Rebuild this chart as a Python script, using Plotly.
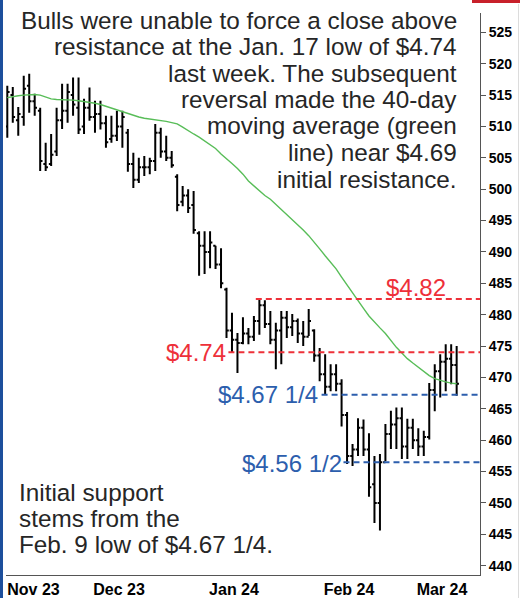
import plotly.graph_objects as go

# ---------------- data ----------------
month_labels = ["Nov 23", "Dec 23", "Jan 24", "Feb 24", "Mar 24"]
month_pos = [4.78, 20.38, 41.37, 62.35, 79.32]

highs = [516.5, 516.3, 513.1, 518.1, 518.4, 515.2, 513.0, 507.4, 508.8, 513.0,
         516.8, 516.8, 517.8, 517.8, 514.4, 516.2, 514.1, 514.1, 511.7, 511.7,
         512.5, 512.5, 509.6, 505.8, 505.0, 505.3, 505.0, 510.4, 509.8, 508.5,
         506.1, 502.4, 500.5, 500.0, 499.7, 493.3, 493.3, 493.3, 491.0, 490.6,
         484.3, 480.3, 477.1, 479.6, 477.9, 479.8, 482.5, 482.3, 480.6, 478.7,
         480.6, 480.6, 480.1, 479.4, 479.0, 480.9, 477.7, 474.7, 473.7, 472.1,
         472.1, 469.7, 464.5, 459.4, 463.5, 463.3, 461.1, 457.5, 457.8, 462.6,
         464.7, 465.2, 465.2, 463.4, 463.4, 461.9, 461.5, 469.1, 472.1, 473.7,
         475.3, 475.3, 475.0]
lows = [508.2, 510.6, 508.5, 510.1, 512.2, 511.7, 502.9, 502.9, 503.7, 505.3,
        509.6, 510.6, 511.7, 508.8, 508.8, 510.9, 509.0, 509.5, 506.6, 507.4,
        507.7, 506.6, 502.8, 500.2, 501.0, 502.1, 502.4, 502.9, 505.0, 504.5,
        503.4, 496.5, 497.3, 496.2, 492.9, 486.2, 486.5, 487.4, 487.3, 484.2,
        476.3, 474.0, 470.7, 475.3, 475.3, 475.8, 476.8, 477.9, 475.3, 471.3,
        472.1, 476.3, 476.6, 475.5, 475.0, 476.6, 472.5, 469.4, 467.25, 467.8,
        467.8, 462.2, 456.2, 455.9, 457.5, 457.5, 451.0, 446.8, 445.6, 456.7,
        458.6, 458.6, 457.0, 457.0, 458.6, 457.5, 457.5, 460.1, 464.6, 466.8,
        467.8, 468.9, 467.1]
opens = [510.0, 515.0, 511.0, 511.5, 516.5, 514.0, 512.5, 504.0, 504.0, 506.0,
         511.0, 512.5, 515.0, 513.0, 510.0, 513.0, 511.5, 512.0, 510.5, 508.0,
         508.5, 510.0, 509.0, 504.0, 501.5, 503.5, 503.5, 504.5, 509.0, 506.0,
         505.0, 502.0, 498.0, 499.0, 497.5, 493.0, 491.0, 490.0, 491.0, 488.0,
         484.0, 477.5, 476.0, 475.5, 477.0, 476.5, 479.0, 481.5, 478.5, 476.0,
         477.5, 479.5, 478.0, 479.0, 477.0, 476.5, 477.5, 473.5, 470.5, 468.5,
         470.5, 469.0, 464.0, 457.5, 458.5, 462.0, 458.5, 453.0, 450.0, 456.5,
         461.0, 462.5, 463.5, 459.0, 462.0, 460.0, 459.0, 460.5, 468.0, 471.0,
         472.5, 473.0, 472.0]
closes = [515.5, 511.5, 512.0, 516.0, 514.0, 513.0, 504.5, 503.5, 505.5, 511.0,
          512.5, 515.5, 513.5, 509.5, 513.0, 511.5, 512.0, 510.5, 507.5, 508.5,
          510.0, 511.5, 504.0, 501.5, 503.5, 503.5, 504.5, 509.0, 506.0, 505.0,
          503.8, 497.5, 499.0, 497.0, 493.5, 491.0, 490.0, 491.5, 488.0, 485.0,
          477.5, 476.0, 475.5, 477.0, 476.5, 479.0, 481.5, 478.5, 476.0, 477.5,
          479.5, 478.0, 479.0, 477.0, 476.5, 479.0, 473.5, 470.5, 468.5, 470.5,
          469.0, 464.0, 457.5, 458.5, 462.0, 458.5, 452.5, 450.0, 456.5, 461.0,
          462.5, 463.5, 459.0, 462.0, 460.0, 459.0, 460.5, 468.0, 471.0, 472.5,
          473.0, 472.0, 469.0]
ma40 = [514.6, 514.8, 514.9, 515.0, 515.1, 515.1, 515.0, 514.7, 514.4, 514.3,
        514.3, 514.2, 514.2, 514.1, 514.0, 513.8, 513.7, 513.5, 513.2, 512.9,
        512.6, 512.4, 512.1, 511.8, 511.5, 511.3, 511.2, 511.1, 511.0, 510.8,
        510.6, 510.4, 509.9, 509.3, 508.8, 508.3, 507.7, 507.2, 506.5, 505.6,
        504.9, 504.1, 503.3, 502.4, 501.3, 500.5, 499.8, 499.0, 498.4, 497.6,
        496.8, 495.9, 495.1, 494.3, 493.5, 492.6, 491.6, 490.5, 489.4, 488.4,
        487.3, 486.0, 484.7, 483.4, 482.2, 481.0, 479.8, 478.8, 477.9, 477.0,
        475.9, 474.8, 473.9, 473.0, 472.3, 471.6, 470.9, 470.3, 469.8, 469.5,
        469.3, 469.1, 469.0]
bar_index = list(range(len(highs)))

level_values = [482.5, 474.0, 467.25, 456.5]
level_labels = ["$4.82", "$4.74", "$4.67 1/4", "$4.56 1/2"]
level_from_bar = [46, 41, 58, 62]

top_text = ["Bulls were unable to force a close above",
            "resistance at the Jan. 17 low of $4.74",
            "last week. The subsequent",
            "reversal made the 40-day",
            "moving average (green",
            "line) near $4.69",
            "initial resistance."]
bottom_text = ["Initial support", "stems from the", "Feb. 9 low of $4.67 1/4."]

# ---------------- styling / layout helpers ----------------
W, H = 520, 598
PL, PR, PT, PB = 6, 480, 13, 575
XR = [-0.237, 86.26]
YR = [438.52, 528.08]
FONT = "Arial, Liberation Sans, sans-serif"
RED = "#ee3039"
BLUE = "#2c5ead"
GREEN = "#58bd58"
TEXT = "#262626"


def px_x(px):
    return (px - PL) / (PR - PL)


def px_y(py):
    return (PB - py) / (PB - PT)


fig = go.Figure()

fig.add_trace(go.Ohlc(
    x=bar_index, open=opens, high=highs, low=lows, close=closes,
    increasing=dict(line=dict(color="black", width=2)),
    decreasing=dict(line=dict(color="black", width=2)),
    tickwidth=0.42, hoverinfo="skip", showlegend=False))

fig.add_trace(go.Scatter(
    x=bar_index, y=ma40, mode="lines",
    line=dict(color=GREEN, width=1.4), hoverinfo="skip", showlegend=False))

level_colors = [RED, RED, BLUE, BLUE]
for val, start, col in zip(level_values, level_from_bar, level_colors):
    fig.add_trace(go.Scatter(
        x=[start - 0.65, XR[1]], y=[val, val], mode="lines",
        line=dict(color=col, width=2, dash="6px,4px"),
        hoverinfo="skip", showlegend=False))

annotations = []
for i, line in enumerate(top_text):
    annotations.append(dict(
        xref="paper", yref="paper", x=px_x(459), y=px_y(20 + 26.5 * i),
        xanchor="right", yanchor="middle", showarrow=False, text=line,
        font=dict(family=FONT, size=24.3, color=TEXT)))
for i, line in enumerate(bottom_text):
    annotations.append(dict(
        xref="paper", yref="paper", x=px_x(17), y=px_y(492 + 26 * i),
        xanchor="left", yanchor="middle", showarrow=False, text=line,
        font=dict(family=FONT, size=24.3, color=TEXT)))

label_pos = [(448, 287.7), (228, 352.5), (320, 395.0), (344, 463.4)]
for lab, (lx, ly), col in zip(level_labels, label_pos, level_colors):
    annotations.append(dict(
        xref="paper", yref="paper", x=px_x(lx), y=px_y(ly),
        xanchor="right", yanchor="middle", showarrow=False, text=lab,
        font=dict(family=FONT, size=24, color=col)))

shapes = [
    # blue stripe at left edge
    dict(type="rect", xref="paper", yref="paper",
         x0=px_x(0), x1=px_x(3), y0=px_y(H), y1=px_y(0),
         fillcolor="#1d4f9c", line=dict(width=0), layer="above"),
    # red bar at top right
    dict(type="rect", xref="paper", yref="paper",
         x0=px_x(472), x1=px_x(W), y0=px_y(3), y1=px_y(0),
         fillcolor="#c8202a", line=dict(width=0), layer="above"),
    # faint right border
    dict(type="line", xref="paper", yref="paper",
         x0=px_x(518.5), x1=px_x(518.5), y0=px_y(H), y1=px_y(4),
         line=dict(color="#dcdcdc", width=1)),
]

fig.update_layout(
    width=W, height=H,
    margin=dict(l=PL, r=W - PR, t=PT, b=H - PB, pad=0, autoexpand=False),
    paper_bgcolor="white", plot_bgcolor="white",
    showlegend=False,
    font=dict(family=FONT),
    annotations=annotations,
    shapes=shapes,
    xaxis=dict(
        range=XR, showgrid=False, zeroline=False, automargin=False,
        showline=True, linecolor="#555555", linewidth=1,
        ticks="", tickmode="array", tickvals=month_pos, ticktext=month_labels,
        tickfont=dict(family=FONT, size=16, color="black", weight="bold"),
        rangeslider=dict(visible=False), fixedrange=True),
    yaxis=dict(
        side="right", range=YR, showgrid=False, zeroline=False, automargin=False,
        showline=True, linecolor="#555555", linewidth=1,
        ticks="outside", ticklen=5, tickcolor="#555555",
        tickmode="linear", tick0=440, dtick=5,
        tickfont=dict(family=FONT, size=14, color="black", weight="bold"),
        fixedrange=True),
)

fig.write_html(
    "out.html",
    config={"displayModeBar": False},
    post_script="document.body.style.margin='0px';"
                "document.body.style.padding='0px';"
                "document.documentElement.style.overflow='hidden';",
)
